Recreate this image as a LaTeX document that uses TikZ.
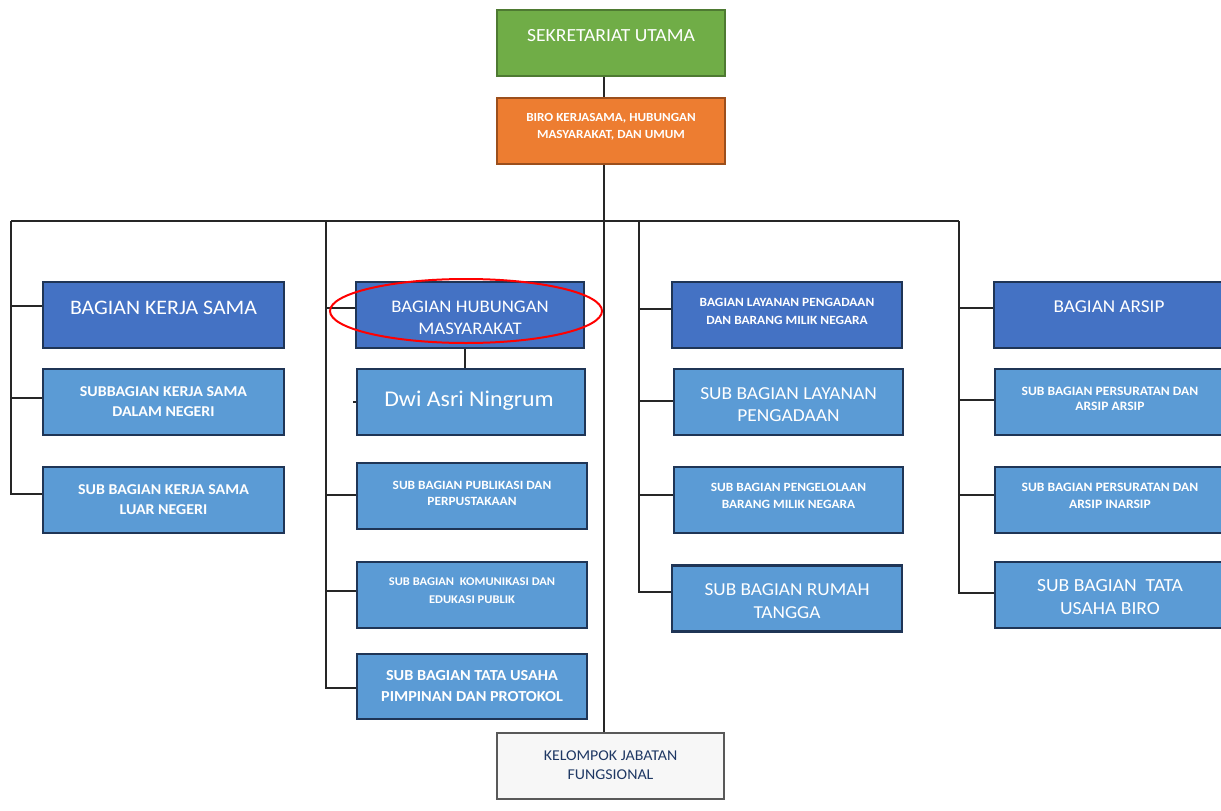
\documentclass[tikz,border=0pt]{standalone}
\usepackage{fontspec}
\usetikzlibrary{shapes.geometric}
\setmainfont[FakeStretch=1.06]{Carlito}
\newcommand{\fsz}[2]{\fontsize{#1}{#2}\selectfont}
\definecolor{grn}{HTML}{70AD47}
\definecolor{grnd}{HTML}{4E7A32}
\definecolor{org}{HTML}{ED7D31}
\definecolor{orgd}{HTML}{9C4F1C}
\definecolor{dblue}{HTML}{4472C4}
\definecolor{lblue}{HTML}{5B9BD5}
\definecolor{navy}{HTML}{1F3556}
\definecolor{kelt}{HTML}{1F3864}
\tikzset{
  box/.style={draw=navy, line width=2.5pt, inner sep=0pt, minimum height=66pt},
  headbox/.style={box, fill=dblue},
  subbox/.style={box, fill=lblue},
  txt/.style={text=white, align=center, inner sep=0pt},
  conn/.style={draw=black!85, line width=1.5pt},
}
\begin{document}
\begin{tikzpicture}[x=1pt,y=-1pt]
\useasboundingbox (0,0) rectangle (1221,811);
\clip (0,0) rectangle (1221,811);
% top boxes
\node[box, draw=grnd, fill=grn, minimum width=228pt] (sek) at (611,43) {};
\node[txt, font=\fsz{18.5}{20}] (sekt) at (611,36) {SEKRETARIAT UTAMA};
\node[box, draw=orgd, fill=org, minimum width=228pt] (biro) at (611,131) {};
\node[txt, font=\fsz{12.4}{17}\bfseries] (birot) at (611,127) {BIRO KERJASAMA, HUBUNGAN\\MASYARAKAT, DAN UMUM};
% column 1
\node[headbox, minimum width=241pt] (kerja) at (163.5,315) {};
\node[txt, font=\fsz{20.6}{22}] (kerjat) at (163.5,308) {BAGIAN KERJA SAMA};
\node[subbox, minimum width=241pt] (dn) at (163.5,402) {};
\node[txt, font=\fsz{15}{20}\bfseries] (dnt) at (163.5,402) {SUBBAGIAN KERJA SAMA\\DALAM NEGERI};
\node[subbox, minimum width=241pt] (ln) at (163.5,500) {};
\node[txt, font=\fsz{15}{20}\bfseries] (lnt) at (163.5,500) {SUB BAGIAN KERJA SAMA\\LUAR NEGERI};
% column 2
\node[headbox, minimum width=228pt] (hub) at (470,315) {};
\node[txt, font=\fsz{17.7}{22}] (hubt) at (470,318) {BAGIAN HUBUNGAN\\MASYARAKAT};
\node[subbox, minimum width=228pt] (dwi) at (471,402) {};
\node[txt, font=\fsz{22.5}{26}] (dwit) at (469,401) {Dwi Asri Ningrum};
\node[subbox, minimum width=230pt] (pub) at (472,496) {};
\node[txt, font=\fsz{12.6}{16}\bfseries] (pubt) at (472,493) {SUB BAGIAN PUBLIKASI DAN\\PERPUSTAKAAN};
\node[subbox, minimum width=230pt] (kom) at (472,595) {};
\node[txt, font=\fsz{11.8}{18}\bfseries] (komt) at (472,591) {SUB BAGIAN\ \ KOMUNIKASI DAN\\EDUKASI PUBLIK};
\node[subbox, minimum width=230pt, minimum height=65pt] (tu) at (472,686.5) {};
\node[txt, font=\fsz{15.3}{21}\bfseries] (tut) at (472,686.5) {SUB BAGIAN TATA USAHA\\PIMPINAN DAN PROTOKOL};
% column 3
\node[headbox, minimum width=230pt] (lay) at (787,315) {};
\node[txt, font=\fsz{12.6}{18}\bfseries] (layt) at (787,311) {BAGIAN LAYANAN PENGADAAN\\DAN BARANG MILIK NEGARA};
\node[subbox, minimum width=229pt] (slp) at (788.5,402) {};
\node[txt, font=\fsz{18.3}{22}] (slpt) at (788.5,405) {SUB BAGIAN LAYANAN\\PENGADAAN};
\node[subbox, minimum width=229pt] (peng) at (788.5,500) {};
\node[txt, font=\fsz{12.6}{17}\bfseries] (pengt) at (788.5,496) {SUB BAGIAN PENGELOLAAN\\BARANG MILIK NEGARA};
\node[subbox, minimum width=230pt] (rt) at (787,598.5) {};
\node[txt, font=\fsz{18.2}{23}] (rtt) at (787,601) {SUB BAGIAN RUMAH\\TANGGA};
% column 4
\node[headbox, minimum width=256pt] (arsip) at (1122,315) {};
\node[txt, font=\fsz{18.1}{20}] (arsipt) at (1109,307) {BAGIAN ARSIP};
\node[subbox, minimum width=256pt] (pa) at (1123,402) {};
\node[txt, font=\fsz{12.8}{15}\bfseries] (pat) at (1110,399) {SUB BAGIAN PERSURATAN DAN\\ARSIP ARSIP};
\node[subbox, minimum width=256pt] (ina) at (1123,500) {};
\node[txt, font=\fsz{12.8}{17}\bfseries] (inat) at (1110,496) {SUB BAGIAN PERSURATAN DAN\\ARSIP INARSIP};
\node[subbox, minimum width=256pt] (tub) at (1123,595) {};
\node[txt, font=\fsz{18.5}{23}] (tubt) at (1110,597) {SUB BAGIAN\ \ TATA\\USAHA BIRO};
% bottom
\node[box, draw=black!65, fill=gray!6, minimum width=227pt] (kel) at (610.5,766) {};
\node[txt, text=kelt, font=\fsz{15}{19}] (kelt) at (610.5,765) {KELOMPOK JABATAN\\FUNGSIONAL};
% connectors
\coordinate (trunk) at (604,221);
\coordinate (c1) at (11,221);
\coordinate (c2) at (326,221);
\coordinate (c3) at (639,221);
\coordinate (c4) at (959,221);
\draw[conn] (sek.south -| trunk) -- (biro.north -| trunk);
\draw[conn] (biro.south -| trunk) -- (kel.north -| trunk);
\draw[conn] (c1) -- (c4);
% column 1
\draw[conn] (c1) -- (c1 |- 0,494) -- (ln.west |- 0,494);
\draw[conn] (c1 |- 0,306) -- (kerja.west |- 0,306);
\draw[conn] (c1 |- 0,398) -- (dn.west |- 0,398);
% column 2
\draw[conn] (c2) -- (c2 |- 0,688) -- (tu.west |- 0,688);
\draw[conn] (c2 |- 0,308) -- (hub.west |- 0,308);
\draw[conn] (c2 |- 0,495) -- (pub.west |- 0,495);
\draw[conn] (c2 |- 0,591) -- (kom.west |- 0,591);
\draw[conn] (hub.south -| 465,0) -- (dwi.north -| 465,0);
\draw[conn] (dwi.west) -- ++(-3,0);
% column 3
\draw[conn] (c3) -- (c3 |- 0,592) -- (rt.west |- 0,592);
\draw[conn] (c3 |- 0,309) -- (lay.west |- 0,309);
\draw[conn] (c3 |- 0,401) -- (slp.west |- 0,401);
\draw[conn] (c3 |- 0,495) -- (peng.west |- 0,495);
% column 4
\draw[conn] (c4) -- (c4 |- 0,593) -- (tub.west |- 0,593);
\draw[conn] (c4 |- 0,308) -- (arsip.west |- 0,308);
\draw[conn] (c4 |- 0,400) -- (pa.west |- 0,400);
\draw[conn] (c4 |- 0,495) -- (ina.west |- 0,495);
% highlight
\node[draw=red, line width=2pt, ellipse, minimum width=272pt, minimum height=64pt, inner sep=0pt] (ring) at (466,311) {};
\end{tikzpicture}
\end{document}
